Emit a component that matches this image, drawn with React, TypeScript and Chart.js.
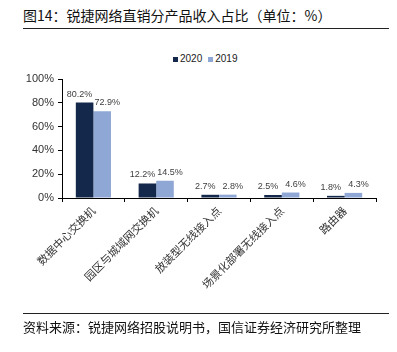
import React, { useEffect, useRef } from "react";
import { Chart, registerables } from "chart.js";

Chart.register(...registerables);

const categories = ["数据中心交换机", "园区与城域网交换机", "放装型无线接入点", "场景化部署无线接入点", "路由器"];
const series2020 = [80.2, 12.2, 2.7, 2.5, 1.8];
const series2019 = [72.9, 14.5, 2.8, 4.6, 4.3];
const yTicks = [0, 20, 40, 60, 80, 100];

const DARK = "#14284b";
const LIGHT = "#8fa7d5";
const CJK = '"Noto Sans CJK SC", "Noto Sans", sans-serif';
const LAT = '"Liberation Sans", Arial, sans-serif';

const labelPlugin = {
  id: "barLabels",
  afterDatasetsDraw(chart: any) {
    const ctx = chart.ctx;
    ctx.save();
    ctx.font = `9px ${LAT}`;
    ctx.fillStyle = "#404040";
    ctx.textAlign = "center";
    ctx.textBaseline = "bottom";
    chart.data.datasets.forEach((ds: any, di: number) => {
      const meta = chart.getDatasetMeta(di);
      meta.data.forEach((bar: any, i: number) => {
        const v = ds.data[i];
        const dx = di === 0 ? -5 : 5;
        ctx.fillText(v.toFixed(1) + "%", bar.x + dx, bar.y - 4);
      });
    });
    ctx.restore();
  },
};

export default function App() {
  const ref = useRef<HTMLCanvasElement>(null);
  useEffect(() => {
    document.body.style.margin = "0";
    const chart = new Chart(ref.current!, {
      type: "bar",
      data: {
        labels: categories,
        datasets: [
          { label: "2020", data: series2020, backgroundColor: DARK, borderWidth: 0 },
          { label: "2019", data: series2019, backgroundColor: LIGHT, borderWidth: 0 },
        ],
      },
      options: {
        animation: false,
        responsive: false,
        devicePixelRatio: 1,
        layout: { padding: { top: 79, right: 21, left: 0, bottom: 54 } },
        plugins: { legend: { display: false }, tooltip: { enabled: false }, title: { display: false } },
        datasets: { bar: { barPercentage: 1, categoryPercentage: 0.56 } },
        scales: {
          x: {
            afterFit: (s: any) => { s.height = 100; },
            grid: { display: true, drawOnChartArea: false, drawTicks: true, tickLength: 4, color: "#000", offset: true },
            border: { display: true, color: "#000", width: 1 },
            ticks: {
              minRotation: 45,
              maxRotation: 45,
              autoSkip: false,
              padding: 2,
              color: "#333",
              font: { family: CJK, size: 11 },
            },
          },
          y: {
            min: 0,
            max: 100,
            afterFit: (s: any) => { s.width = 62; },
            afterBuildTicks: (s: any) => { s.ticks = yTicks.map((v) => ({ value: v })); },
            grid: { display: true, drawOnChartArea: false, drawTicks: true, tickLength: 4, color: "#000" },
            border: { display: true, color: "#000", width: 1 },
            ticks: {
              padding: 4,
              color: "#333",
              font: { family: LAT, size: 11 },
              callback: (v: any) => v + "%",
            },
          },
        },
      },
      plugins: [labelPlugin],
    });
    return () => chart.destroy();
  }, []);

  return (
    <div style={{ position: "relative", width: 397, height: 352, background: "#fff", overflow: "hidden" }}>
      <div style={{ position: "absolute", left: 23, top: 5, fontFamily: CJK, fontSize: 14, lineHeight: "20px", color: "#111", whiteSpace: "nowrap" }}>
        图14：锐捷网络直销分产品收入占比（单位：%）
      </div>
      <div style={{ position: "absolute", left: 23, top: 28, width: 366, height: 1, background: "#222" }} />
      <div style={{ position: "absolute", left: 173, top: 53, fontFamily: LAT, fontSize: 10, lineHeight: "12px", color: "#222", whiteSpace: "nowrap", display: "flex", alignItems: "center" }}>
        <span style={{ display: "inline-block", width: 5, height: 5, background: DARK, marginRight: 2 }} />
        <span>2020</span>
        <span style={{ display: "inline-block", width: 5, height: 5, background: LIGHT, marginLeft: 6, marginRight: 2 }} />
        <span>2019</span>
      </div>
      <canvas ref={ref} width={397} height={352} style={{ position: "absolute", left: 0, top: 0 }} />
      <div style={{ position: "absolute", left: 23, top: 313, width: 366, height: 1, background: "#222" }} />
      <div style={{ position: "absolute", left: 23, top: 318, fontFamily: CJK, fontSize: 13, lineHeight: "18px", color: "#111", whiteSpace: "nowrap" }}>
        资料来源：锐捷网络招股说明书，国信证券经济研究所整理
      </div>
    </div>
  );
}
